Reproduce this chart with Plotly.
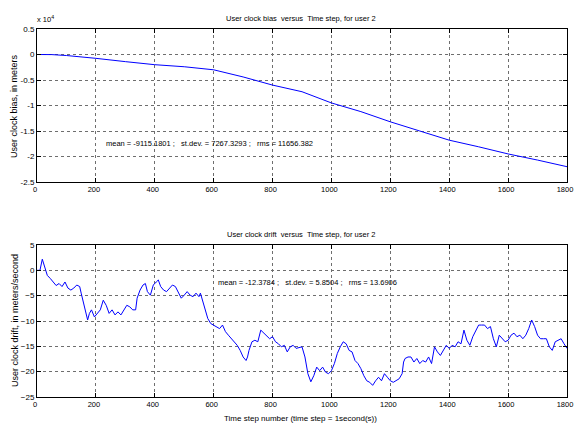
import plotly.graph_objects as go

# ---- data ----
bias_t = [0, 50, 100, 150, 200, 300, 400, 500, 600, 700, 800, 900, 1000,
          1100, 1200, 1300, 1400, 1500, 1600, 1700, 1800]
bias_m = [0, -20, -200, -450, -750, -1400, -2000, -2400, -3000, -4400, -6000,
          -7300, -9500, -11200, -13200, -15000, -16800, -18100, -19500, -20700, -22000]

drift_t = [0, 10, 18, 25, 35, 45, 55, 65, 75, 85, 95, 105, 115, 125, 135, 145, 150,
           158, 165, 172, 178, 185, 195, 205, 215, 225, 235, 245, 255, 265, 275, 285,
           295, 305, 315, 325, 335, 340, 350, 360, 368, 375, 385, 395, 405, 412, 420,
           430, 440, 450, 460, 470, 480, 490, 500, 510, 520, 530, 540, 550, 555, 560,
           570, 580, 590, 600, 610, 620, 630, 640, 650, 660, 670, 680, 690, 700, 710,
           715, 720, 730, 740, 750, 760, 770, 780, 790, 800, 810, 820, 830, 840, 850,
           860, 870, 880, 890, 900, 910, 920, 930, 940, 950, 960, 970, 980, 990, 1000,
           1010, 1020, 1030, 1040, 1050, 1060, 1070, 1080, 1090, 1100, 1110, 1120, 1130,
           1140, 1150, 1160, 1170, 1180, 1190, 1200, 1210, 1220, 1230, 1240, 1245, 1250,
           1260, 1270, 1280, 1290, 1300, 1310, 1320, 1330, 1340, 1350, 1360, 1370, 1380,
           1390, 1400, 1410, 1420, 1430, 1440, 1450, 1460, 1470, 1480, 1490, 1500, 1510,
           1520, 1530, 1540, 1550, 1560, 1570, 1580, 1590, 1600, 1610, 1620, 1630, 1640,
           1650, 1660, 1670, 1680, 1690, 1700, 1710, 1720, 1730, 1740, 1750, 1760, 1770,
           1780, 1790, 1800]
drift_v = [0, 0, 2.2, 1.0, -1.0, -1.6, -2.3, -3.0, -2.6, -3.2, -2.3, -3.5, -3.9, -3.5,
           -2.9, -3.2, -4.5, -6.5, -7.8, -9.8, -8.5, -7.8, -9.2, -8.5, -7.8, -5.9, -6.9,
           -8.5, -7.8, -8.8, -8.2, -8.8, -7.8, -6.9, -7.2, -7.8, -7.8, -5.5, -3.9, -2.9,
           -2.6, -4.2, -4.9, -2.9, -2.3, -1.9, -3.2, -3.9, -4.2, -3.5, -2.9, -3.2, -4.5,
           -5.5, -4.9, -4.2, -4.9, -5.2, -4.5, -5.2, -4.5, -5.5, -7.8, -9.5, -10.5, -10.8,
           -11.1, -11.5, -10.8, -12.1, -12.8, -13.5, -14.1, -14.8, -15.8, -17.1, -17.8,
           -17.1, -15.8, -14.1, -13.8, -14.1, -11.8, -12.4, -13.1, -13.5, -13.1, -14.1,
           -14.5, -15.1, -14.8, -16.1, -15.1, -14.8, -15.4, -15.2, -15.1, -17.1, -20.4,
           -22.0, -20.8, -19.1, -19.8, -19.1, -20.1, -20.4, -19.8, -18.4, -16.4, -15.1,
           -14.1, -14.5, -15.8, -16.1, -17.8, -18.4, -19.4, -20.8, -21.8, -22.1, -22.7,
           -21.8, -21.1, -21.8, -20.4, -21.1, -21.8, -22.1, -21.8, -21.4, -20.4, -18.1,
           -17.4, -17.1, -17.1, -18.1, -17.4, -18.4, -17.8, -18.1, -17.1, -18.4, -15.1,
           -16.1, -16.8, -15.8, -14.8, -15.4, -14.8, -15.1, -14.1, -14.5, -11.8, -13.8,
           -14.8, -13.1, -11.8, -10.8, -10.8, -10.8, -11.5, -11.1, -13.5, -15.1, -12.8,
           -13.5, -14.1, -13.8, -12.8, -12.4, -13.1, -12.8, -13.5, -12.8, -11.5, -9.8,
           -11.1, -12.8, -13.5, -13.5, -13.5, -15.1, -15.8, -14.1, -13.8, -13.5, -14.5,
           -15.4]

x_ticks = [0, 200, 400, 600, 800, 1000, 1200, 1400, 1600, 1800]
bias_ticks = [5000, 0, -5000, -10000, -15000, -20000, -25000]
bias_tick_labels = ["0.5", "0", "-0.5", "-1", "-1.5", "-2", "-2.5"]
drift_ticks = [5, 0, -5, -10, -15, -20, -25]

title_top = "User clock bias  versus  Time step, for user 2"
title_bot = "User clock drift  versus  Time step, for user 2"
stats_top = "mean = -9115.1801 ;   st.dev. = 7267.3293 ;   rms = 11656.382"
stats_bot = "mean = -12.3784 ;   st.dev. = 5.8504 ;   rms = 13.6906"
ylab_top = "User clock bias, in meters"
ylab_bot = "User clock drift, in meters/second"
xlab = "Time step number (time step = 1second(s))"

FONT = "Liberation Sans Narrow, Arial Narrow, Liberation Sans, Arial, sans-serif"

W, H = 574, 425
L, R, T, B = 37, 567, 29, 397   # plot-area pixel box


def dx(px):
    return (px - L) / (R - L)


def dy(py):
    return (B - py) / (B - T)


fig = go.Figure()
fig.add_trace(go.Scatter(x=bias_t, y=bias_m, mode="lines",
                         line=dict(color="#0000ff", width=1), xaxis="x", yaxis="y"))
fig.add_trace(go.Scatter(x=drift_t, y=drift_v, mode="lines",
                         line=dict(color="#0000ff", width=1), xaxis="x2", yaxis="y2"))

axis_common = dict(showline=True, linecolor="black", linewidth=1, mirror="ticks",
                   ticks="inside", ticklen=4, tickcolor="black", automargin=False,
                   ticklabeloverflow="allow",
                   showgrid=True, gridcolor="#6e6e6e", griddash="dot", gridwidth=1,
                   zeroline=False, tickfont=dict(family=FONT, size=8, color="black"))
xfont = dict(family=FONT, size=7.5, color="black")

fig.update_layout(
    width=W, height=H,
    margin=dict(l=L, r=W - R, t=T, b=H - B, autoexpand=False),
    paper_bgcolor="white", plot_bgcolor="white", showlegend=False,
    font=dict(family=FONT, size=8, color="black"),
    xaxis=dict(domain=[0, 1], range=[0, 1800], tickvals=x_ticks,
               anchor="y", **axis_common),
    yaxis=dict(domain=[dy(182), dy(29)], range=[-25000, 5000], tickvals=bias_ticks,
               ticktext=bias_tick_labels, anchor="x", **axis_common),
    xaxis2=dict(domain=[0, 1], range=[0, 1800], tickvals=x_ticks,
                anchor="y2", **axis_common),
    yaxis2=dict(domain=[dy(397), dy(245)], range=[-25, 5], tickvals=drift_ticks,
                anchor="x2", **axis_common),
)
fig.update_xaxes(tickfont=xfont, ticklabelshift=-2)


def note(text, px, py, size=7.5, xanchor="center", angle=0):
    return dict(text=text, x=dx(px), y=dy(py), xref="paper", yref="paper",
                showarrow=False, xanchor=xanchor, yanchor="middle",
                textangle=angle, font=dict(size=size))


ann = [
    note(title_top, 301, 19),
    note(title_bot, 301, 234),
    note("x 10<sup>4</sup>", 35, 19, xanchor="left"),
    note(stats_top, 104, 143, xanchor="left"),
    note(stats_bot, 216, 282, xanchor="left"),
    note(ylab_top, 14, 106, size=9, angle=-90),
    note(ylab_bot, 15, 321, size=9, angle=-90),
    note(xlab, 300, 418, size=8),
]
fig.update_layout(annotations=ann)

fig.write_html("out.html", config={"displayModeBar": False},
               post_script="document.body.style.margin='0';document.body.style.overflow='hidden';")
